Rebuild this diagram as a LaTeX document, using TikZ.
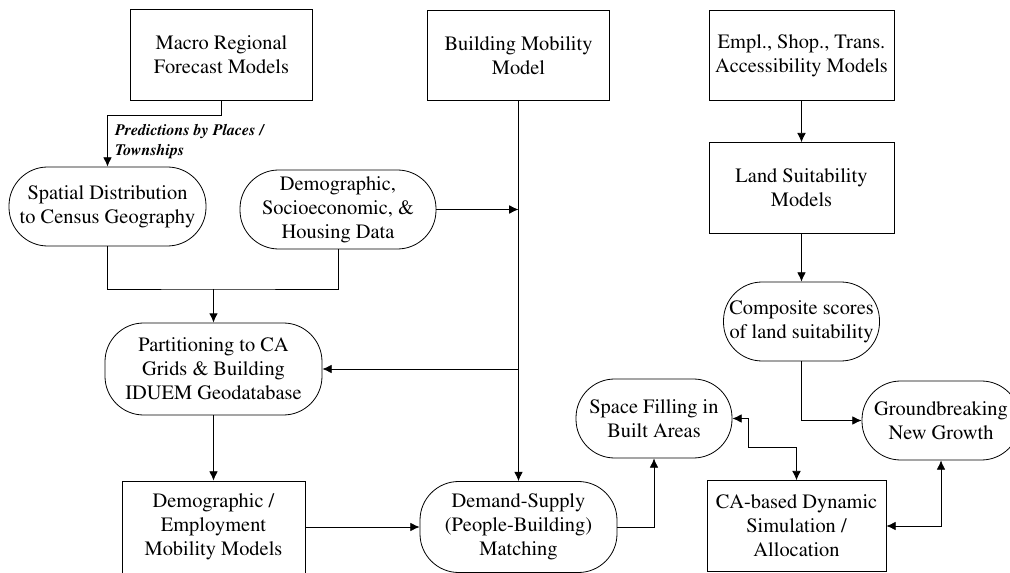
\documentclass[tikz,border=0pt]{standalone}
\usepackage[T1]{fontenc}
\usepackage{times}
\usepackage{tikz}
\usetikzlibrary{arrows.meta}

\begin{document}
\begin{tikzpicture}[->,>={Latex[length=7pt,width=6.5pt]}
	,shorten >=0pt
	,x=0.75pt,y=-0.75pt
	,semithick]
  \tikzstyle{every node}=[font=\fontsize{15.3}{18}\selectfont,align=center,inner sep=2pt]
  \tikzstyle{model}=[draw,rectangle,minimum width=136pt,minimum height=68pt]
  \tikzstyle{stage}=[draw,rounded corners=29pt,minimum height=59.25pt]

  \useasboundingbox (0,0) rectangle (1010,573);

  % top row of models
  \node[model](macro) at (221.5,55) {Macro Regional\\Forecast Models};
  \node[model](bmm) at (518.5,55.5) {Building Mobility\\Model};
  \node[model,minimum width=138.75pt](empl) at (801.5,55.5) {Empl., Shop., Trans.\\Accessibility Models};
  \node[model,minimum width=138.75pt](land) at (801.5,188) {Land Suitability\\Models};

  % data and processing stages
  \node[stage,minimum width=147.75pt](spatial) at (107.5,206.5) {Spatial Distribution\\to Census Geography};
  \node[stage,minimum width=147pt](demo) at (338,209.5) {Demographic,\\Socioeconomic, \&\\Housing Data};
  \node[stage,minimum width=162.75pt,minimum height=69pt](part) at (213.5,369) {Partitioning to CA\\Grids \& Building\\IDUEM Geodatabase};
  \node[stage,minimum width=117pt](comp) at (801.5,321.5) {Composite scores\\of land suitability};
  \node[stage,minimum width=117pt](space) at (654,418.5) {Space Filling in\\Built Areas};
  \node[stage,minimum width=118.5pt](ground) at (941,420.5) {Groundbreaking\\New Growth};

  % bottom row
  \node[model,minimum width=137.25pt,minimum height=69pt](demmob) at (213.5,527) {Demographic /\\Employment\\Mobility Models};
  \node[stage,minimum width=147.75pt,minimum height=68.25pt](demand) at (518.5,527) {Demand-Supply\\(People-Building)\\Matching};
  \node[model,minimum width=134.25pt](ca) at (796.5,526) {CA-based Dynamic\\Simulation /\\Allocation};

  % label of the forecast arrow
  \node[font=\fontsize{12}{15}\selectfont\bfseries\itshape,align=left,anchor=north west](pred) at (112,121) {Predictions by Places /\\Townships};

  \coordinate (join) at (213.5,289);
  \coordinate (sbend) at (748,447);

  \draw (macro.south) -- ++(0,15) -| (spatial.north);
  \draw[-] (spatial.south) |- (join) -| (demo.south);
  \path
 	(join) edge[thick] (part.north)
 	(part) edge (demmob)
 	(demmob) edge (demand)
 	(bmm) edge (demand)
 	(demo.east) edge (bmm.south |- demo.east)
 	(bmm.south |- part.east) edge (part.east)
 	(empl) edge (land)
 	(land) edge (comp);
  \draw (demand.east) -| (space.south);
  \draw (comp.south) |- (ground.west);
  \draw[<->] (space.east) -| (sbend) -| (ca.north);
  \draw[<->] (ca.east) -| (ground.south);

\end{tikzpicture}
\end{document}
